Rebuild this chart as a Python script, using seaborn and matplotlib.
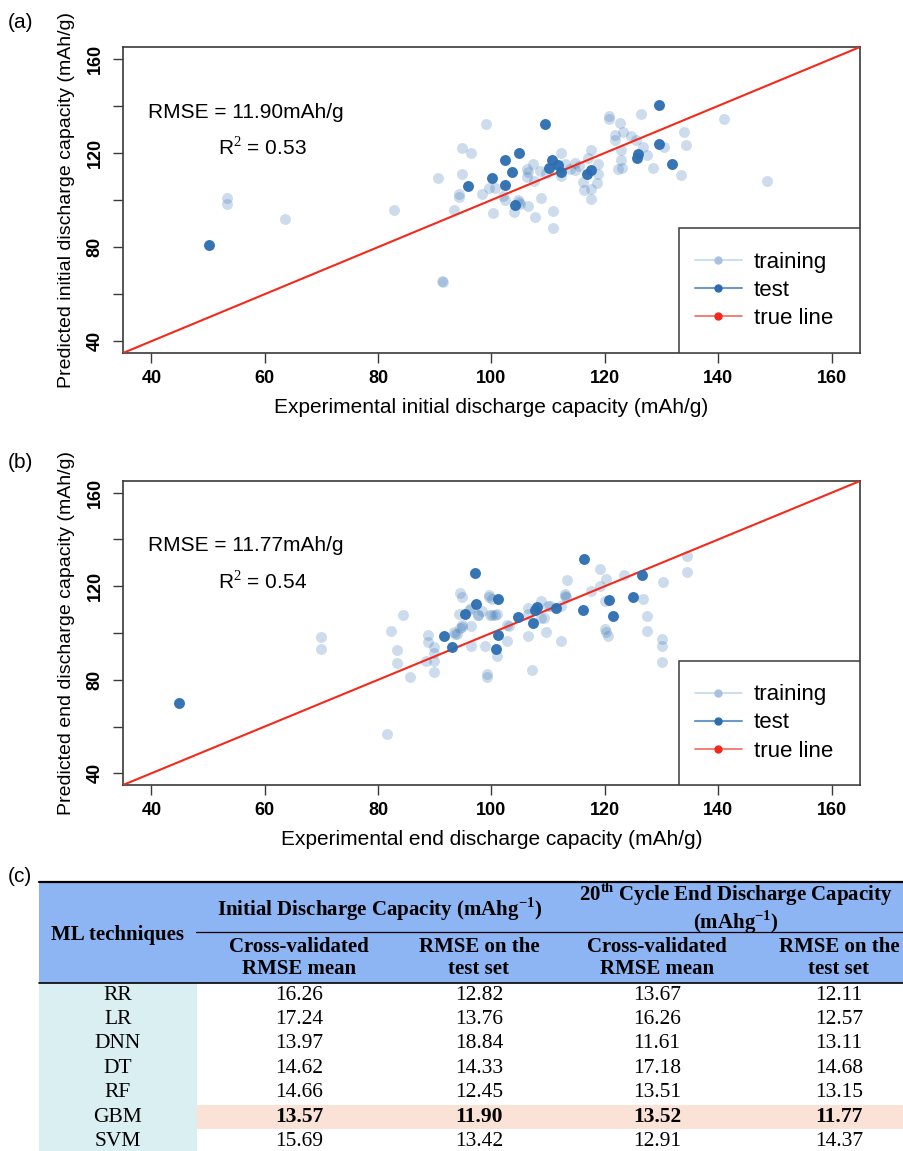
import numpy as np
import pandas as pd
import matplotlib
matplotlib.use('Agg')
import matplotlib.pyplot as plt
from matplotlib.lines import Line2D
from matplotlib.patches import Rectangle
import seaborn as sns

# (a) initial discharge capacity, mAh/g
init_train_x = [53.3, 53.3, 63.5, 82.8, 91.4, 91.2, 90.6, 94.8, 94.8, 94.2,
                94.3, 93.3, 96.4, 99.1, 98.3, 99.5, 102.3, 100.2, 103.9, 104.7,
                106.5, 107.7, 108.8, 110.8, 110.8, 106.2, 106.2, 107.4, 107.5, 108.5,
                112.2, 112.2, 112.9, 114.7, 114.8, 116.1, 116.4, 117.5, 117.6, 117.6,
                118.8, 118.8, 118.6, 117.0, 120.7, 120.7, 122.7, 121.7, 121.7, 123.2,
                124.6, 125.5, 122.9, 122.9, 122.3, 123.0, 126.4, 126.8, 127.5, 128.5,
                130.5, 134.0, 134.3, 133.5, 141.0, 148.6, 104.8, 105.1, 100.6, 102.0,
                106.5, 109.6, 113.8, 115.5]
init_train_y = [101.0, 98.5, 91.8, 95.9, 65.0, 65.6, 109.4, 122.2, 110.9, 101.3,
                102.7, 95.9, 120.0, 132.1, 102.7, 105.0, 100.2, 94.6, 94.9, 100.2,
                97.5, 92.8, 101.0, 95.3, 88.0, 113.0, 109.8, 115.2, 108.0, 112.4,
                120.0, 110.1, 115.5, 115.9, 112.6, 107.7, 104.1, 100.6, 121.2, 104.6,
                115.5, 111.0, 107.3, 118.0, 135.6, 134.6, 132.5, 127.5, 125.7, 129.0,
                127.2, 125.4, 121.4, 116.9, 113.3, 113.6, 136.5, 122.6, 119.0, 113.4,
                122.6, 128.7, 123.3, 110.5, 134.2, 108.0, 99.0, 98.2, 105.3, 101.5,
                112.0, 111.5, 113.0, 114.5]
init_test_x = [50.1, 95.8, 100.1, 102.3, 102.4, 103.7, 104.9, 104.2, 109.5, 110.2,
               110.6, 111.8, 112.3, 116.9, 117.6, 125.8, 125.7, 129.6, 129.6, 131.8]
init_test_y = [80.7, 105.8, 109.4, 106.3, 117.2, 112.0, 120.0, 97.7, 132.1, 113.8,
               116.9, 114.8, 112.0, 111.0, 112.6, 119.7, 118.0, 140.3, 123.6, 115.5]

# (b) 20th cycle end discharge capacity, mAh/g
end_train_x = [69.9, 69.9, 84.4, 82.2, 83.4, 83.4, 85.7, 81.5, 88.8, 88.8,
               89.8, 89.8, 89.8, 89.8, 88.4, 94.5, 94.8, 94.2, 93.9, 94.5,
               93.3, 94.8, 96.1, 96.3, 96.3, 97.6, 98.4, 99.6, 100.1, 100.9,
               100.1, 98.8, 99.2, 99.2, 100.9, 102.7, 103.0, 106.5, 106.5, 107.2,
               108.8, 109.3, 109.7, 110.3, 112.2, 113.0, 113.2, 113.4, 112.3, 117.5,
               119.1, 119.1, 120.2, 120.0, 120.0, 120.2, 120.5, 123.3, 126.7, 127.4,
               127.4, 130.2, 130.0, 130.0, 130.0, 134.4, 134.4, 99.6, 100.6, 99.8,
               97.6, 96.3, 94.8, 93.6, 102.7, 106.5, 108.8, 110.0, 112.9]
end_train_y = [98.4, 93.2, 107.8, 100.8, 92.8, 87.1, 81.1, 57.0, 99.3, 96.0,
               94.2, 91.3, 88.2, 83.3, 88.2, 117.1, 115.6, 108.2, 99.6, 102.0,
               100.3, 103.4, 109.9, 102.8, 94.6, 107.6, 109.5, 116.1, 114.5, 108.1,
               107.9, 94.6, 82.5, 81.1, 90.3, 96.7, 103.1, 110.9, 98.9, 84.0,
               113.7, 106.6, 100.6, 111.6, 96.7, 116.6, 115.2, 122.5, 111.6, 118.0,
               127.2, 120.1, 123.0, 113.7, 101.7, 100.6, 98.8, 124.7, 114.7, 107.4,
               101.0, 121.8, 97.4, 94.6, 87.5, 132.9, 126.1, 115.4, 107.8, 107.8,
               107.8, 110.9, 102.4, 99.6, 103.5, 108.1, 106.5, 111.6, 115.8]
end_test_x = [44.8, 91.6, 93.0, 95.4, 97.1, 97.2, 101.2, 101.2, 100.8, 104.7,
              107.4, 108.1, 107.7, 111.4, 116.4, 116.1, 120.8, 121.4, 125.0, 126.5]
end_test_y = [70.2, 98.9, 94.2, 108.3, 125.7, 112.3, 114.4, 99.1, 93.2, 107.0,
              104.1, 111.2, 109.8, 110.9, 131.5, 110.0, 114.3, 107.4, 115.2, 125.0]

LIMITS = [35, 165]
X_TICKS = [40, 60, 80, 100, 120, 140, 160]
Y_TICKS = [40, 60, 80, 100, 120, 140, 160]
Y_TICK_LABELS = ['40', '', '80', '', '120', '', '160']

# (c) RMSE table
ML_TECHNIQUES = ['RR', 'LR', 'DNN', 'DT', 'RF', 'GBM', 'SVM']
INIT_CV = ['16.26', '17.24', '13.97', '14.62', '14.66', '13.57', '15.69']
INIT_TEST = ['12.82', '13.76', '18.84', '14.33', '12.45', '11.90', '13.42']
END_CV = ['13.67', '16.26', '11.61', '17.18', '13.51', '13.52', '12.91']
END_TEST = ['12.11', '12.57', '13.11', '14.68', '13.15', '11.77', '14.37']
BEST = 'GBM'

BLUE = '#2c6db0'
RED = '#f5281c'
FRAME = '#3a3a3a'

sns.set_theme(style='ticks')
plt.rcParams['font.family'] = ['Liberation Sans', 'DejaVu Sans']
plt.rcParams['text.color'] = 'black'
plt.rcParams['axes.labelcolor'] = 'black'
plt.rcParams['mathtext.fontset'] = 'custom'
plt.rcParams['mathtext.rm'] = 'Liberation Serif'
plt.rcParams['mathtext.bf'] = 'Liberation Serif:bold'


def parity_panel(ax, tx, ty, vx, vy, rmse, r2, xlabel, ylabel):
    train = pd.DataFrame({'exp': tx, 'pred': ty})
    test = pd.DataFrame({'exp': vx, 'pred': vy})
    sns.scatterplot(data=train, x='exp', y='pred', ax=ax, color=BLUE,
                    alpha=0.24, s=62, linewidth=0, zorder=2)
    sns.lineplot(x=LIMITS, y=LIMITS, ax=ax, color=RED, lw=1.5, zorder=3)
    sns.scatterplot(data=test, x='exp', y='pred', ax=ax, color=BLUE,
                    alpha=0.95, s=62, linewidth=0, zorder=4)
    ax.set_xlim(LIMITS)
    ax.set_ylim(LIMITS)
    ax.set_xticks(X_TICKS)
    ax.set_yticks(Y_TICKS)
    ax.set_yticklabels(Y_TICK_LABELS)
    ax.tick_params(axis='both', direction='out', length=7, width=1,
                   color=FRAME, labelcolor='black', labelsize=13)
    ax.tick_params(axis='x', pad=5)
    ax.tick_params(axis='y', pad=7, labelrotation=90)
    for lab in ax.get_xticklabels() + ax.get_yticklabels():
        lab.set_fontweight('bold')
    for lab in ax.get_yticklabels():
        lab.set_va('center')
    for sp in ax.spines.values():
        sp.set_visible(True)
        sp.set_color(FRAME)
        sp.set_linewidth(1.2)
    ax.set_xlabel(xlabel, fontsize=15, labelpad=8)
    ax.set_ylabel(ylabel, fontsize=14, labelpad=8)
    ax.text(0.034, 0.787, f'RMSE = {rmse}mAh/g', transform=ax.transAxes,
            fontsize=15, va='center', ha='left')
    ax.text(0.129, 0.670, f'R$^2$ = {r2}', transform=ax.transAxes,
            fontsize=15, va='center', ha='left')

    # legend box, R style
    ax.add_patch(Rectangle((0.7544, 0), 0.2456, 0.4085, transform=ax.transAxes,
                           facecolor='white', edgecolor=FRAME, lw=1.1, zorder=5))
    handles = [
        Line2D([], [], color='#c6d8ec', lw=1.2, marker='o', ms=5,
               mfc='#a6c2e0', mec='#a6c2e0'),
        Line2D([], [], color='#6b9acb', lw=1.5, marker='o', ms=5,
               mfc=BLUE, mec=BLUE),
        Line2D([], [], color='#f36a60', lw=1.2, marker='o', ms=5,
               mfc=RED, mec=RED),
    ]
    leg = ax.legend(handles, ['training', 'test', 'true line'], loc='center left',
                    bbox_to_anchor=(0.7544 + 5 / 737, 0.2043), frameon=False,
                    fontsize=16, borderpad=0, labelspacing=0.32,
                    handlelength=2.1, handletextpad=0.55)
    leg.set_zorder(6)


fig = plt.figure(figsize=(9.04, 11.51), dpi=100)
ax_a = fig.add_axes([123 / 904, 1 - 353 / 1151, 737 / 904, 306 / 1151])
ax_b = fig.add_axes([123 / 904, 1 - 785 / 1151, 737 / 904, 304 / 1151])

parity_panel(ax_a, init_train_x, init_train_y, init_test_x, init_test_y, '11.90', '0.53',
             'Experimental initial discharge capacity (mAh/g)',
             'Predicted initial discharge capacity (mAh/g)')
parity_panel(ax_b, end_train_x, end_train_y, end_test_x, end_test_y, '11.77', '0.54',
             'Experimental end discharge capacity (mAh/g)',
             'Predicted end discharge capacity (mAh/g)')

fig.text(8 / 904, 1 - 23 / 1151, '(a)', fontsize=15, va='center')
fig.text(8 / 904, 1 - 463 / 1151, '(b)', fontsize=15, va='center')
fig.text(8 / 904, 1 - 876 / 1151, '(c)', fontsize=15, va='center')

# table (c), laid out in pixel units of the figure
tab = fig.add_axes([0, 0, 1, 291 / 1151])
tab.set_xlim(0, 904)
tab.set_ylim(1151, 860)
tab.axis('off')

HEAD_BLUE = '#8db4f3'
CYAN = '#d9eff2'
PEACH = '#fbe2d6'
serif = ['Liberation Serif', 'DejaVu Serif']
row_h = 24.4
row0 = 983
col_x = [118, 299, 479, 657, 839]

tab.add_patch(Rectangle((39, 882), 865, row0 - 882, color=HEAD_BLUE, lw=0))
tab.add_patch(Rectangle((39, row0), 158, 1151 - row0, color=CYAN, lw=0))
best_i = ML_TECHNIQUES.index(BEST)
tab.add_patch(Rectangle((197, row0 + best_i * row_h), 707, row_h, color=PEACH, lw=0))
tab.plot([39, 904], [882, 882], color='black', lw=1.6)
tab.plot([196, 904], [932, 932], color='black', lw=0.9)
tab.plot([39, 904], [row0, row0], color='black', lw=1.2)

hkw = dict(family=serif, fontsize=15, fontweight='bold', ha='center', va='center')
tab.text(col_x[0], 935, 'ML techniques', **hkw)
tab.text(380, 909, r'Initial Discharge Capacity (mAhg$^{\mathbf{-1}}$)', **hkw)
tab.text(736, 908, '20$^{\\mathbf{th}}$ Cycle End Discharge Capacity\n(mAhg$^{\\mathbf{-1}}$)',
         linespacing=1.0, **hkw)
for cx, (l1, l2) in zip(col_x[1:], [('Cross-validated', 'RMSE mean'), ('RMSE on the', 'test set')] * 2):
    tab.text(cx, 958, f'{l1}\n{l2}', linespacing=1.1, **hkw)

for i, name in enumerate(ML_TECHNIQUES):
    y = row0 + (i + 0.5) * row_h
    w = 'bold' if name == BEST else 'normal'
    tab.text(col_x[0], y, name, family=serif, fontsize=15.5, ha='center', va='center')
    for cx, vals in zip(col_x[1:], [INIT_CV, INIT_TEST, END_CV, END_TEST]):
        tab.text(cx, y, vals[i], family=serif, fontsize=15.5, fontweight=w,
                 ha='center', va='center')

fig.savefig('out.png', dpi=100)
